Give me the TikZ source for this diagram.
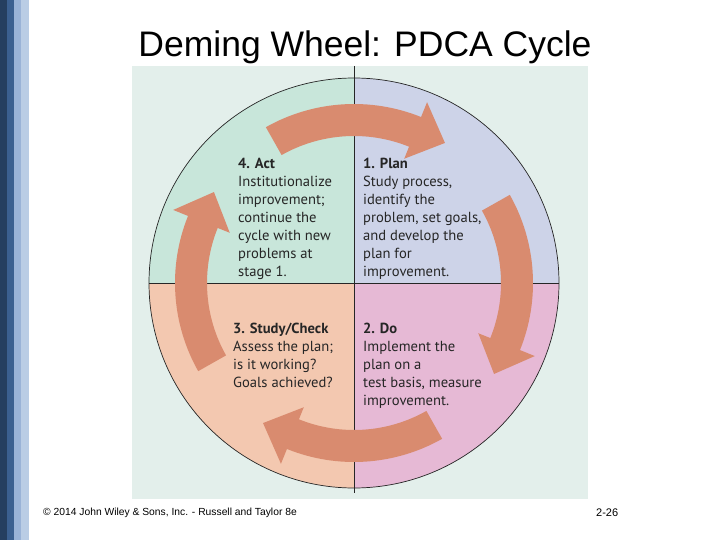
\documentclass[tikz,border=0pt]{standalone}
\usepackage{fontspec}
\setmainfont{Liberation Sans}
\newfontfamily\bodyfont{PT Sans}
\begin{document}
\begin{tikzpicture}[x=1pt,y=-1pt,
  quadline/.style={draw=black!85,line width=0.7pt},
  arrowc/.style={fill=arrowsalmon},
  body/.style={anchor=north west,align=left,inner sep=0pt,font=\bodyfont\fontsize{14.6}{18}\selectfont,text=black!85},
]
\definecolor{stripeA}{HTML}{253F60}
\definecolor{stripeB}{HTML}{3B6090}
\definecolor{stripeC}{HTML}{9AB3D7}
\definecolor{stripeD}{HTML}{BACDE5}
\definecolor{panelbg}{HTML}{E3EFEB}
\definecolor{qTL}{HTML}{C8E6DA}
\definecolor{qTR}{HTML}{CDD3E8}
\definecolor{qBR}{HTML}{E6B9D5}
\definecolor{qBL}{HTML}{F3C8B0}
\definecolor{arrowsalmon}{HTML}{D98B6F}
\useasboundingbox (0,0) rectangle (720,540);
\fill[white] (0,0) rectangle (720,540);
% stripes
\fill[stripeA] (0,0) rectangle (7,540);
\fill[stripeB] (7,0) rectangle (14,540);
\fill[stripeC] (14,0) rectangle (21,540);
\fill[stripeD] (21,0) rectangle (29,540);
% title
\node[font=\fontsize{35.5}{40}\selectfont,anchor=base,inner sep=0pt] (title) at (365,57) {Deming Wheel: PDCA Cycle};
% panel
\fill[panelbg] (132,66) rectangle (588,499);
% wheel
\coordinate (C) at (354,283);
\begin{scope}
  \clip (C) circle[radius=205];
  \fill[qTL] (140,60) rectangle (354,283);
  \fill[qTR] (354,60) rectangle (570,283);
  \fill[qBR] (354,283) rectangle (570,500);
  \fill[qBL] (140,283) rectangle (354,500);
\end{scope}
\draw[quadline] (C) circle[radius=205];
\draw[quadline] (149,283) -- (559,283);
\draw[quadline] (354,66) -- (354,493);
% arrows
\begin{scope}[shift={(354,283)},yscale=-1]
  \foreach \r/\nm in {0/top,-90/right,-180/bottom,-270/left}{
    \fill[arrowc,rotate=\r] (119.5:147) arc[start angle=119.5,end angle=68,radius=147]
      -- (68:134) -- (57:167) -- (68:195) -- (68:179)
      arc[start angle=68,end angle=119.5,radius=179] -- cycle;
  }
\end{scope}
% texts
\node[body] (act) at (238,158) {\textbf{4. Act}\\Institutionalize\\improvement;\\continue the\\cycle with new\\problems at\\stage 1.};
\node[body] (plan) at (363,158) {\textbf{1. Plan}\\Study process,\\identify the\\problem, set goals,\\and develop the\\plan for\\improvement.};
\node[body] (check) at (233,323) {\textbf{3. Study/Check}\\Assess the plan;\\is it working?\\Goals achieved?};
\node[body] (do) at (363,323) {\textbf{2. Do}\\Implement the\\plan on a\\test basis, measure\\improvement.};
% footer
\node[anchor=base west,inner sep=0pt,font=\fontsize{10.3}{12}\selectfont] (foot) at (43,515) {\textcopyright{} 2014 John Wiley \& Sons, Inc. - Russell and Taylor 8e};
\node[anchor=base west,inner sep=0pt,font=\fontsize{11}{13}\selectfont] (page) at (596,516) {2-26};
\end{tikzpicture}
\end{document}
